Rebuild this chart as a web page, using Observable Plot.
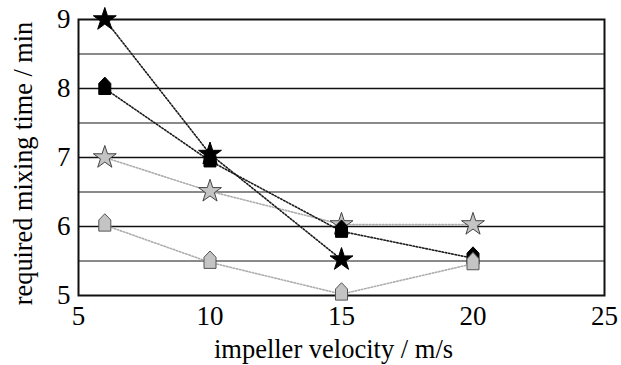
<!DOCTYPE html>
<html><head><meta charset="utf-8">
<script src="https://cdn.jsdelivr.net/npm/d3@7"></script>
<script src="https://cdn.jsdelivr.net/npm/@observablehq/plot@0.6"></script>
<style>
body{margin:0;background:#fff}
svg, svg g, svg text{font-family:"Liberation Serif" !important; font-variant:normal !important}
</style>
</head><body><div id="chart"></div>
<script>
const velocity = [6, 10, 15, 20];
const blackStar = [9.0, 7.05, 5.52];
const blackHouse = [8.0, 6.95, 5.93, 5.54];
const grayStar = [7.0, 6.51, 6.03, 6.03];
const grayHouse = [6.02, 5.48, 5.02, 5.46];
const xTicks = [5, 10, 15, 20, 25];
const yTicks = [5, 6, 7, 8, 9];
const majorGrid = [6, 7, 8];
const minorGrid = [5.5, 6.5, 7.5, 8.5];
const xTitle = "impeller velocity / m/s";
const yTitle = "required mixing time / min";

const rows = (vals) => vals.map((v, i) => ({x: velocity[i], y: v}));

const house = {
  draw(ctx, size) {
    const r = Math.sqrt(size / Math.PI);
    ctx.moveTo(-r, r);
    ctx.lineTo(r, r);
    ctx.lineTo(r, -0.85 * r);
    ctx.lineTo(0, -1.9 * r);
    ctx.lineTo(-r, -0.85 * r);
    ctx.closePath();
  }
};

const dotted = "1.5,1.8";
const chart = Plot.plot({
  width: 621, height: 365,
  marginTop: 19, marginBottom: 70, marginLeft: 78, marginRight: 17,
  style: {fontFamily: "Liberation Serif", fontSize: "27px", color: "black", background: "white"},
  x: {domain: [5, 25], ticks: xTicks, tickFormat: d => String(d), tickSize: 0, tickPadding: 10, label: null},
  y: {domain: [5, 9], ticks: yTicks, tickFormat: d => String(d), tickSize: 0, tickPadding: 8, label: null},
  marks: [
    Plot.ruleY(minorGrid, {stroke: "#8a8a8a", strokeWidth: 2}),
    Plot.ruleY(majorGrid, {stroke: "#111", strokeWidth: 1.3}),
    Plot.frame({stroke: "#111", strokeWidth: 2}),
    Plot.line(rows(grayStar), {x: "x", y: "y", stroke: "#adadad", strokeWidth: 1.6, strokeDasharray: dotted}),
    Plot.line(rows(grayHouse), {x: "x", y: "y", stroke: "#adadad", strokeWidth: 1.6, strokeDasharray: dotted}),
    Plot.line(rows(blackHouse), {x: "x", y: "y", stroke: "#1a1a1a", strokeWidth: 1.6, strokeDasharray: dotted}),
    Plot.line(rows(blackStar), {x: "x", y: "y", stroke: "#1a1a1a", strokeWidth: 1.6, strokeDasharray: dotted}),
    Plot.dot(rows(grayStar), {x: "x", y: "y", symbol: "star", r: 7.2, fill: "#c4c4c4", stroke: "#444", strokeWidth: 1}),
    Plot.dot(rows(blackHouse), {x: "x", y: "y", symbol: house, r: 6, fill: "#000", stroke: "#000", strokeWidth: 1}),
    Plot.dot(rows(grayHouse), {x: "x", y: "y", symbol: house, r: 6, fill: "#c4c4c4", stroke: "#555", strokeWidth: 1}),
    Plot.dot(rows(blackStar), {x: "x", y: "y", symbol: "star", r: 7.2, fill: "#000", stroke: "#000", strokeWidth: 1}),
    Plot.text([xTitle], {text: d => d, frameAnchor: "bottom", textAnchor: "middle", lineAnchor: "middle", dx: -8, dy: 54.5, fontSize: 26.5, fill: "black"}),
    Plot.text([yTitle], {text: d => d, frameAnchor: "left", textAnchor: "middle", lineAnchor: "middle", rotate: -90, dx: -55, dy: 6, fontSize: 26.3, fill: "black"})
  ]
});
document.getElementById("chart").appendChild(chart);
</script>
</body></html>
